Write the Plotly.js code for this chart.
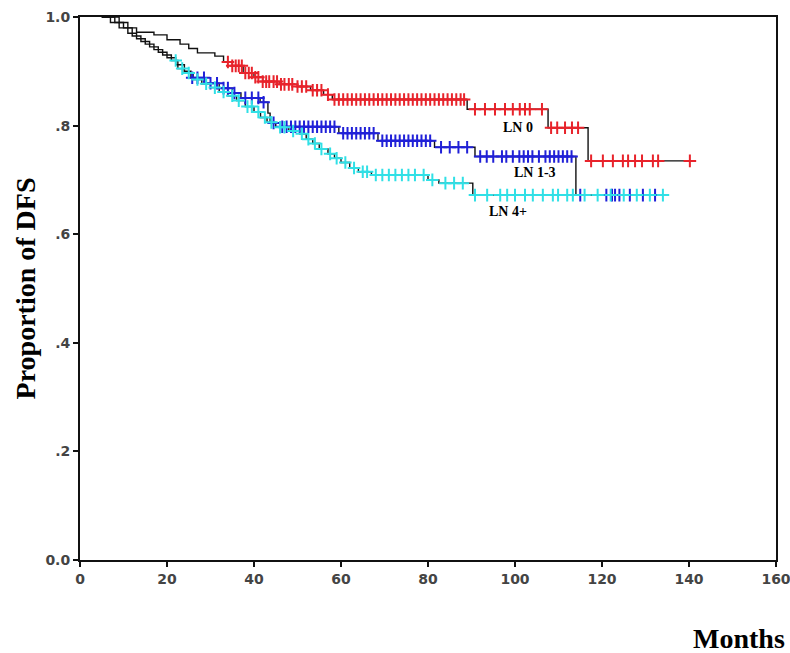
<!DOCTYPE html>
<html>
<head>
<meta charset="utf-8">
<script src="https://cdn.plot.ly/plotly-3.0.1.min.js"></script>
<style>html,body{margin:0;padding:0;background:#fff;}#chart{width:790px;height:653px;}</style>
</head>
<body>
<div id="chart"></div>
<script>
// ---- Data (months, proportion disease-free) ----
const groupNames = ["LN 0", "LN 1-3", "LN 4+"];

// LN 0 step function
const ln0Times = [5, 9, 11, 13, 17, 20, 23, 25, 27, 31, 33, 35, 37.5, 40, 42, 46, 50, 53, 56, 58, 89, 107.6, 116.8];
const ln0Surv  = [1.0, 0.99, 0.98, 0.972, 0.967, 0.958, 0.95, 0.942, 0.934, 0.928, 0.917, 0.91, 0.897, 0.889, 0.881, 0.876, 0.872, 0.865, 0.857, 0.848, 0.83, 0.796, 0.735];
const ln0Censor = [34, 35, 35.8, 36.5, 37.2, 38, 38.8, 39.5, 40.3, 41, 42, 42.8, 43.5, 44.5, 45.3, 46.2, 47, 48, 48.8, 50, 51, 52, 53.5, 54.5, 55.5, 57, 58.5, 59.5, 60.5, 61.5, 62.5, 63.5, 64.5, 65.5, 66.5, 67.5, 68.5, 69.5, 70.5, 71.5, 72.5, 73.5, 74.5, 75.5, 76.5, 77.5, 78.5, 79.5, 80.5, 81.5, 82.5, 83.5, 84.5, 85.5, 86.5, 87.5, 88.3, 90.8, 93.1, 95.4, 97.7, 99.5, 101.1, 102.3, 103.4, 106.2, 108.3, 109.7, 111.5, 113.1, 114.5, 117.5, 120.2, 122.5, 124.8, 126, 127.6, 129.2, 131.7, 132.9, 140.2];

// LN 1-3 step function
const ln13Times = [5, 8, 10, 12, 14, 16, 18, 20, 22, 24, 25.5, 29, 32, 35, 37, 41.4, 43.2, 43.7, 46, 59.5, 68.5, 81.5, 90.8, 114];
const ln13Surv  = [1.0, 0.99, 0.98, 0.965, 0.955, 0.945, 0.935, 0.925, 0.912, 0.9, 0.888, 0.878, 0.869, 0.86, 0.851, 0.843, 0.823, 0.805, 0.798, 0.786, 0.772, 0.76, 0.743, 0.672];
const ln13Censor = [25.8, 27, 28.5, 30, 31.5, 33, 34, 35.5, 38, 39.5, 41, 42.2, 44.5, 46.5, 47.5, 48.5, 49.5, 50.5, 51.5, 52.5, 53.5, 54.5, 55.5, 56.5, 57.5, 58.5, 60.5, 61.5, 62.5, 63.5, 64.5, 65.5, 66.5, 67.5, 69.5, 70.5, 71.5, 72.5, 73.5, 74.5, 75.5, 76.5, 77.5, 78.5, 79.5, 80.5, 83, 85, 87, 89, 92, 93.5, 95, 97, 98, 99.5, 101, 102, 103, 104, 105.5, 107, 108, 109, 110, 111, 112, 113, 115, 121, 122.3, 123, 124, 126.4, 129.4, 132.2];

// LN 4+ step function
const ln4Times = [5, 7, 9, 11, 13, 15, 17, 19, 21, 22.5, 24, 26, 28, 30, 32, 34, 36, 38, 40, 41.5, 43, 45, 48, 50.5, 52, 53.5, 55, 57, 58.5, 60, 62, 64, 67, 80, 82.5, 90.3];
const ln4Surv  = [1.0, 0.99, 0.98, 0.97, 0.96, 0.95, 0.94, 0.93, 0.92, 0.905, 0.897, 0.885, 0.877, 0.87, 0.862, 0.855, 0.846, 0.835, 0.825, 0.815, 0.806, 0.797, 0.79, 0.785, 0.775, 0.767, 0.757, 0.748, 0.74, 0.732, 0.722, 0.715, 0.709, 0.70, 0.694, 0.672];
const ln4Censor = [22, 23.5, 25, 27, 29, 31, 33, 35, 36.5, 38.5, 39.5, 41, 42.5, 44, 46, 47, 49, 51, 52.5, 54, 55.5, 57.5, 59, 61, 63, 65, 66, 68, 69.5, 71, 72.5, 74, 75.5, 77, 79, 81, 84, 86, 88, 90.8, 93.6, 96.6, 98.2, 100, 102.3, 104.1, 106.4, 108.7, 109.9, 112, 113.3, 116, 119, 122, 125, 128, 131, 134];

// Axis tick values / labels
const xTickVals = [0, 20, 40, 60, 80, 100, 120, 140, 160];
const xTickText = ["0", "20", "40", "60", "80", "100", "120", "140", "160"];
const yTickVals = [0, 0.2, 0.4, 0.6, 0.8, 1.0];
const yTickText = ["0.0", ".2", ".4", ".6", ".8", "1.0"];

// Group label positions (months, proportion)
const labelX = [100.7, 104.6, 98.4];
const labelY = [0.796, 0.713, 0.641];

// ---- Helpers ----
function stepAt(times, surv, t) {
  let v = surv[0];
  for (let i = 0; i < times.length; i++) { if (times[i] <= t) v = surv[i]; }
  return v;
}
function extendTo(times, surv, censor) {
  const last = Math.max(times[times.length - 1], ...censor);
  return { x: times.concat([last]), y: surv.concat([surv[surv.length - 1]]) };
}

const groups = [
  { t: ln0Times, s: ln0Surv, c: ln0Censor, color: "#e8232b" },
  { t: ln13Times, s: ln13Surv, c: ln13Censor, color: "#2020d8" },
  { t: ln4Times, s: ln4Surv, c: ln4Censor, color: "#30e0e6" }
];

const traces = [];
groups.forEach((g, i) => {
  const e = extendTo(g.t, g.s, g.c);
  traces.push({
    x: e.x, y: e.y, type: "scatter", mode: "lines",
    line: { shape: "hv", color: "#111", width: 1.4 },
    name: groupNames[i], showlegend: false, hoverinfo: "skip", cliponaxis: false
  });
});
groups.forEach((g, i) => {
  traces.push({
    x: g.c, y: g.c.map(t => stepAt(g.t, g.s, t)), type: "scatter", mode: "markers",
    marker: { symbol: "cross-thin-open", size: 9, color: g.color, line: { color: g.color, width: 2 } },
    name: groupNames[i] + " censored", showlegend: false
  });
});

const annotations = groupNames.map((n, i) => ({
  x: labelX[i], y: labelY[i], xref: "x", yref: "y", text: n, showarrow: false,
  font: { family: "Liberation Serif, Times New Roman, serif", size: 14, color: "#000", weight: "bold" },
  xanchor: "center", yanchor: "middle"
}));

const W = 790, H = 653, ml = 80, mr = 14, mt = 17, mb = 93;
annotations.push({
  x: (787 - ml) / (W - ml - mr), y: (H - mb - 638) / (H - mt - mb), xref: "paper", yref: "paper",
  text: "<b>Months</b>", showarrow: false,
  font: { family: "Liberation Serif, Times New Roman, serif", size: 28, color: "#000" },
  xanchor: "right", yanchor: "middle"
});

const layout = {
  width: W, height: H,
  margin: { l: ml, r: mr, t: mt, b: mb, pad: 0 },
  paper_bgcolor: "#fff", plot_bgcolor: "#fff",
  showlegend: false,
  xaxis: {
    range: [0, 160], tickmode: "array", tickvals: xTickVals, ticktext: xTickText,
    ticks: "outside", ticklen: 5, tickwidth: 2, tickcolor: "#111", ticklabeloverflow: "allow",
    showline: true, linecolor: "#111", linewidth: 2, mirror: true, showgrid: false, zeroline: false,
    tickfont: { family: "DejaVu Sans", size: 14, color: "#444", weight: "bold" },
    automargin: false
  },
  yaxis: {
    range: [0, 1.0], tickmode: "array", tickvals: yTickVals, ticktext: yTickText,
    ticks: "outside", ticklen: 5, tickwidth: 2, tickcolor: "#111",
    showline: true, linecolor: "#111", linewidth: 2, mirror: true, showgrid: false, zeroline: false,
    tickfont: { family: "DejaVu Sans", size: 14, color: "#444", weight: "bold" },
    title: { text: "<b>Proportion of DFS</b>", font: { family: "Liberation Serif, Times New Roman, serif", size: 28, color: "#000" }, standoff: 2 },
    automargin: false
  },
  annotations: annotations
};

Plotly.newPlot("chart", traces, layout, { staticPlot: true, displayModeBar: false });
</script>
</body>
</html>
